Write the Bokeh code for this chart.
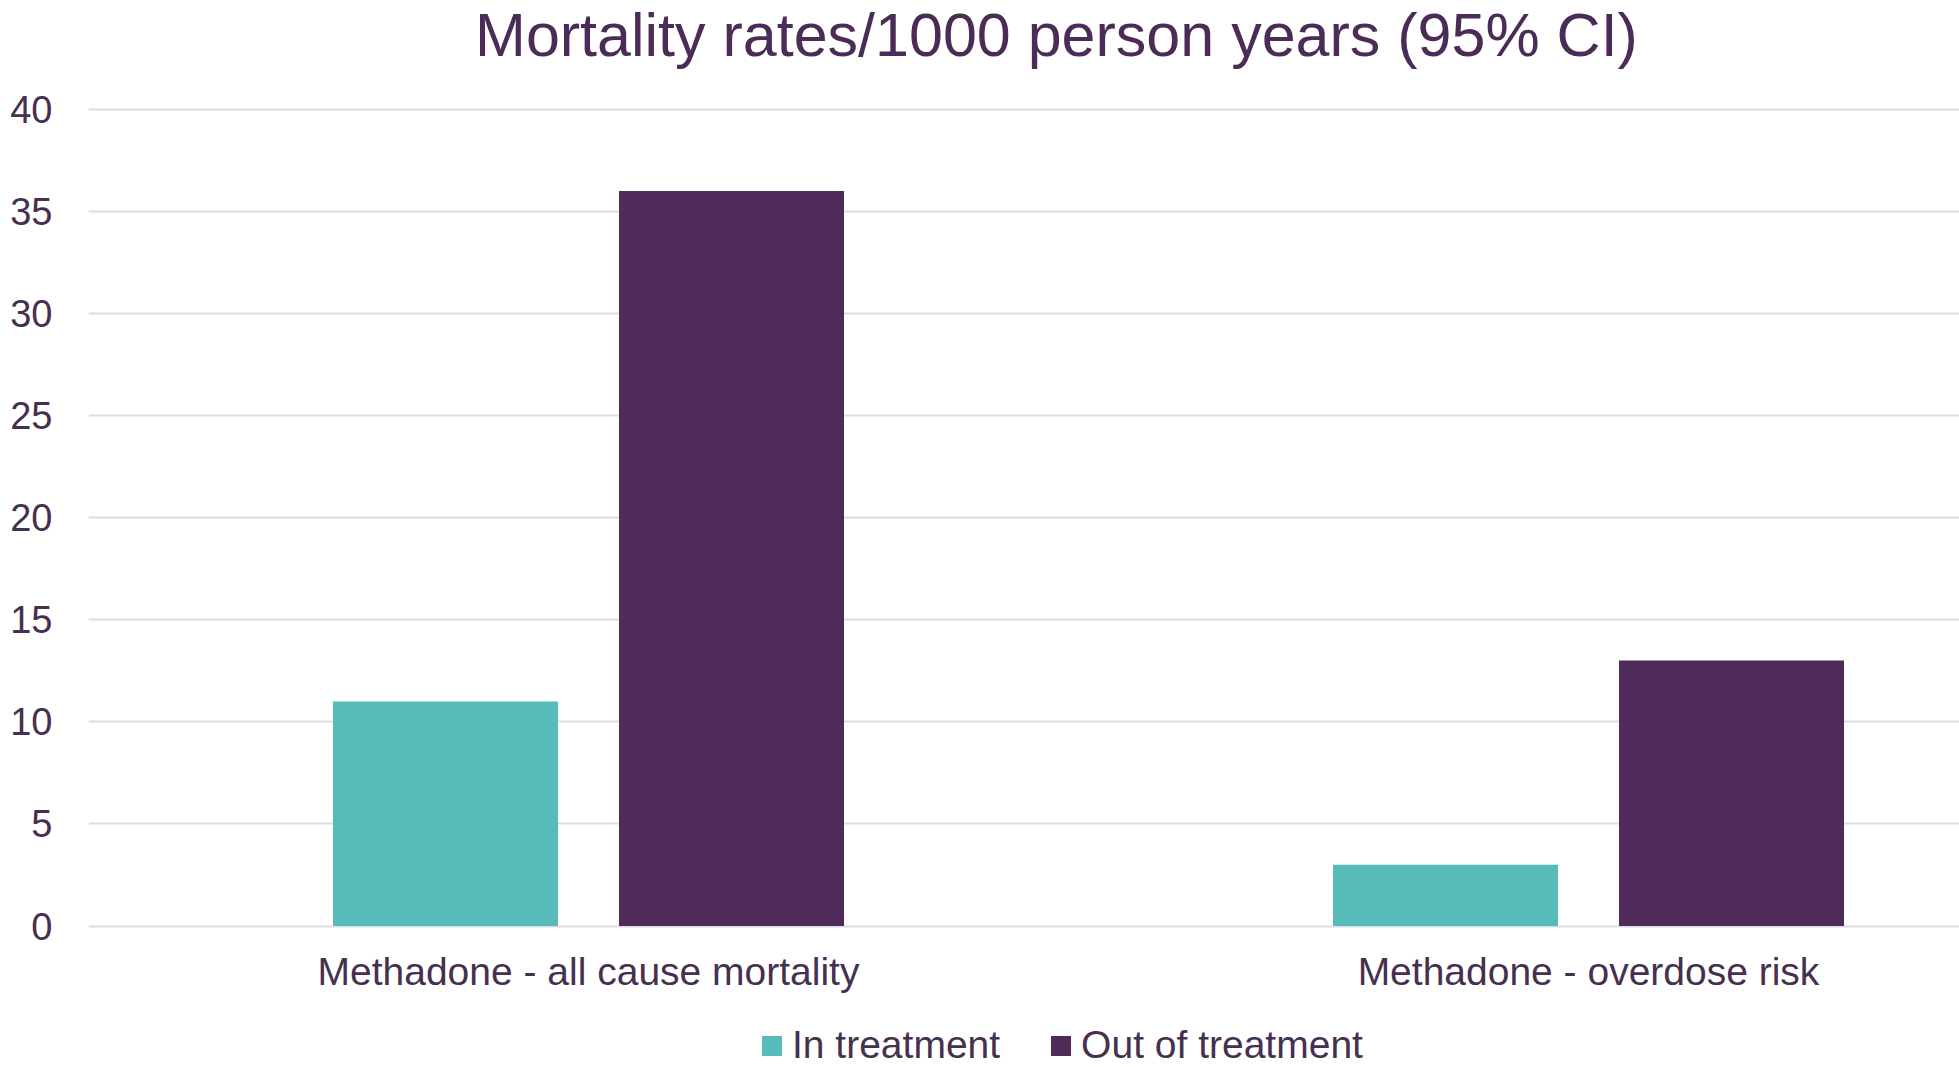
from bokeh.plotting import figure
from bokeh.models import (ColumnDataSource, Range1d, FixedTicker,
                          Legend, LegendItem, Label)
from bokeh.transform import dodge
from bokeh.embed import file_html
from bokeh.resources import INLINE

# ---- data ----
categories = ["Methadone - all cause mortality", "Methadone - overdose risk"]
in_treatment = [11, 3]
out_of_treatment = [36, 13]
series_names = ["In treatment", "Out of treatment"]
y_ticks = [0, 5, 10, 15, 20, 25, 30, 35, 40]
title_text = "Mortality rates/1000 person years (95% CI)"

TEAL = "#56BBB9"
PURPLE = "#4F2B59"
TEXT = "#46304F"
GRID = "#DCDBE8"
FONT = "Liberation Sans"

W, H = 1959, 1067
LEFT = 88                      # frame left edge (px)
Y0_PX, Y40_PX = 925.5, 108.7   # pixel rows of value 0 and 40
ppu = (Y0_PX - Y40_PX) / 40.0
y_top = 40 + Y40_PX / ppu
y_bottom = -(H - Y0_PX) / ppu
x_end = (W - LEFT) / 1000.0

centers = [i + 0.5 for i in range(len(categories))]
source = ColumnDataSource(dict(x=centers, cat=categories,
                               inside=in_treatment, outside=out_of_treatment))

p = figure(width=W, height=H, output_backend="svg", toolbar_location=None,
           x_range=Range1d(0, x_end), y_range=Range1d(y_bottom, y_top),
           min_border_left=LEFT, min_border_right=0, min_border_top=0,
           min_border_bottom=0)
p.outline_line_color = None
p.background_fill_color = "white"
p.border_fill_color = "white"

r1 = p.vbar(x=dodge("x", -0.143, range=p.x_range), top="inside", bottom=0, width=0.225,
            source=source, fill_color=TEAL, line_color=None)
r2 = p.vbar(x=dodge("x", 0.143, range=p.x_range), top="outside", bottom=0, width=0.225,
            source=source, fill_color=PURPLE, line_color=None)

# title
p.add_layout(Label(x=0.968, y=40 + (Y40_PX - 34) / ppu, text=title_text,
                   text_align="center", text_baseline="middle",
                   text_font=FONT, text_font_size="61px", text_color="#4A2C57"))

# x axis (sits on the zero line)
p.xaxis.fixed_location = 0
p.xaxis.ticker = FixedTicker(ticks=centers)
p.xaxis.major_label_overrides = {c: cat for c, cat in zip(centers, categories)}
p.xaxis.axis_line_color = None
p.xaxis.major_tick_line_color = None
p.xaxis.minor_tick_line_color = None
p.xaxis.major_tick_out = 0
p.xaxis.major_tick_in = 0
p.xaxis.major_label_standoff = 24
p.xaxis.major_label_text_font = FONT
p.xaxis.major_label_text_font_size = "39px"
p.xaxis.major_label_text_color = TEXT

# y axis
p.yaxis.ticker = FixedTicker(ticks=y_ticks)
p.yaxis.axis_line_color = None
p.yaxis.major_tick_line_color = None
p.yaxis.minor_tick_line_color = None
p.yaxis.major_tick_out = 0
p.yaxis.major_tick_in = 0
p.yaxis.major_label_standoff = 36
p.yaxis.major_label_text_font = FONT
p.yaxis.major_label_text_font_size = "38px"
p.yaxis.major_label_text_color = TEXT

p.xgrid.grid_line_color = None
p.ygrid.grid_line_color = GRID
p.ygrid.grid_line_width = 2
p.ygrid.ticker = FixedTicker(ticks=y_ticks)

legend = Legend(items=[LegendItem(label=series_names[0], renderers=[r1]),
                       LegendItem(label=series_names[1], renderers=[r2])],
                orientation="horizontal", location=(671, 0),
                glyph_width=25, glyph_height=25, label_standoff=8, spacing=48,
                padding=0, margin=0, border_line_color=None,
                background_fill_alpha=0,
                label_text_font=FONT, label_text_font_size="39px",
                label_text_color=TEXT)
p.add_layout(legend, "center")

open("out.html", "w").write(file_html(p, INLINE))
